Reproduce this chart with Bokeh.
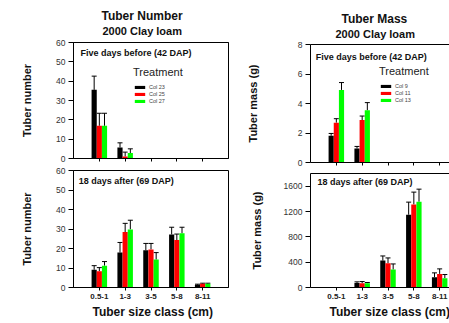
import numpy as np
from bokeh.plotting import figure
from bokeh.models import (Range1d, FixedTicker, Whisker, TeeHead, ColumnDataSource,
                          Legend, LegendItem, Label, LinearAxis, Title)
from bokeh.layouts import row, column
from bokeh.embed import file_html
from bokeh.resources import INLINE

FONT = "Liberation Sans"

# ---------------- data ----------------
size_classes = ["0.5-1", "1-3", "3-5", "5-8", "8-11"]

num_labels = ["Col 23", "Col 25", "Col 27"]
mass_labels = ["Col 9", "Col 11", "Col 13"]

# Tuber number, 42 DAP
num42_a = [35.5, 5.7, 0, 0, 0]
num42_a_err = [7.1, 2.4, 0, 0, 0]
num42_b = [16.9, 1.0, 0, 0, 0]
num42_b_err = [6.5, 2.3, 0, 0, 0]
num42_c = [16.9, 2.8, 0, 0, 0]
num42_c_err = [6.5, 2.2, 0, 0, 0]

# Tuber number, 69 DAP
num69_a = [9.1, 17.9, 19.1, 27.2, 1.4]
num69_a_err = [2.1, 5.2, 3.5, 3.7, 0.3]
num69_b = [8.3, 28.4, 19.5, 24.3, 1.9]
num69_b_err = [1.9, 4.5, 3.1, 3.1, 0.3]
num69_c = [11.2, 29.8, 14.3, 27.8, 1.9]
num69_c_err = [2.1, 4.7, 3.6, 3.1, 0.3]

# Tuber mass, 42 DAP
mass42_a = [1.81, 0.95, 0, 0, 0]
mass42_a_err = [0.16, 0.14, 0, 0, 0]
mass42_b = [2.70, 2.88, 0, 0, 0]
mass42_b_err = [0.27, 0.27, 0, 0, 0]
mass42_c = [4.92, 3.54, 0, 0, 0]
mass42_c_err = [0.50, 0.52, 0, 0, 0]

# Tuber mass, 69 DAP
mass69_a = [3, 73, 425, 1149, 163]
mass69_a_err = [0, 16, 73, 199, 68]
mass69_b = [3, 68, 383, 1312, 215]
mass69_b_err = [0, 26, 84, 194, 79]
mass69_c = [5, 68, 283, 1354, 147]
mass69_c_err = [0, 11, 89, 199, 58]

colors = ["#000000", "#ff0000", "#00ff00"]
offsets = [-0.2, 0.0, 0.2]
PX_PER_CAT = 155 / 6.0


def make_fig(width, height, bl, br, bt, bb, xend, ymax, yticks, ylabel,
             ylabel_standoff, show_xlabels, boxed, top_gap):
    p = figure(width=width, height=height, min_border_left=bl, min_border_right=br,
               min_border_top=bt, min_border_bottom=bb,
               x_range=Range1d(-1, xend), y_range=Range1d(0, ymax),
               output_backend="svg", toolbar_location=None, tools="")
    p.grid.visible = False
    p.background_fill_color = "white"
    p.border_fill_color = "white"
    p.outline_line_color = "black" if boxed else None

    ya = p.left[0]
    ya.ticker = FixedTicker(ticks=yticks)
    ya.axis_label = ylabel
    ya.axis_label_text_font = FONT
    ya.axis_label_text_font_size = "11px"
    ya.axis_label_text_font_style = "bold"
    ya.axis_label_text_color = "#111111"
    ya.axis_label_standoff = ylabel_standoff
    ya.major_label_text_font = FONT
    ya.major_label_text_font_size = "8.5px"
    ya.major_label_text_color = "#333333"
    ya.major_label_standoff = 3
    ya.major_tick_out = 5
    ya.major_tick_in = 0
    ya.minor_tick_out = 0
    ya.minor_tick_in = 0
    ya.axis_line_color = "black"
    ya.major_tick_line_color = "black"

    xa = p.below[0]
    xa.ticker = FixedTicker(ticks=[0, 1, 2, 3, 4])
    xa.major_tick_out = 3
    xa.major_tick_in = 0
    xa.minor_tick_out = 0
    xa.minor_tick_in = 0
    xa.axis_line_color = "black"
    xa.major_tick_line_color = "black"
    if show_xlabels:
        xa.major_label_overrides = {i: s for i, s in enumerate(size_classes)}
        xa.major_label_text_font = FONT
        xa.major_label_text_font_size = "8px"
        xa.major_label_text_font_style = "bold"
        xa.major_label_text_color = "#222222"
        xa.major_label_standoff = 3
    else:
        xa.major_label_text_font_size = "1px"
        xa.major_label_text_color = None
        xa.major_label_standoff = 0

    if top_gap is not None:
        # top border line of the frame; an invisible tick leaves a gap before the titles
        top = LinearAxis(ticker=FixedTicker(ticks=[0]), major_label_text_color=None,
                         major_label_text_font_size="1px",
                         major_tick_out=top_gap, major_tick_in=0, minor_tick_out=0,
                         minor_tick_in=0, major_tick_line_color=None,
                         axis_line_color="black", major_label_standoff=0)
        p.add_layout(top, "above")
    return p


def add_bars(p, series, errors):
    renderers = []
    x0 = np.arange(len(size_classes), dtype=float)
    for k, (vals, errs) in enumerate(zip(series, errors)):
        vals = np.asarray(vals, dtype=float)
        errs = np.asarray(errs, dtype=float)
        xs = x0 + offsets[k]
        src = ColumnDataSource(dict(x=xs, top=vals))
        r = p.vbar(x="x", top="top", width=0.2, source=src,
                   fill_color=colors[k], line_color=None)
        renderers.append(r)
        m = errs > 0
        wsrc = ColumnDataSource(dict(base=xs[m], lower=vals[m], upper=vals[m] + errs[m]))
        w = Whisker(base="base", lower="lower", upper="upper", source=wsrc,
                    lower_head=None,
                    upper_head=TeeHead(size=5, line_color="black", line_width=1),
                    line_color="black", line_width=1)
        p.add_layout(w)
    return renderers


def add_legend(p, renderers, labels, loc):
    items = [LegendItem(label=l, renderers=[r]) for l, r in zip(labels, renderers)]
    lg = Legend(items=items, location=loc, title="Treatment",
                title_text_font=FONT, title_text_font_size="11px",
                title_text_font_style="normal", title_text_color="#222222",
                title_standoff=6,
                label_text_font=FONT, label_text_font_size="5.5px",
                label_text_color="#444444", label_standoff=3,
                glyph_width=13, glyph_height=4, label_height=5, spacing=1,
                padding=0, margin=0, border_line_color=None,
                background_fill_alpha=0)
    p.add_layout(lg)


def text(p, x, y, s, size):
    p.add_layout(Label(x=x, y=y, text=s, text_font=FONT, text_font_size=size,
                       text_font_style="bold", text_align="left",
                       text_baseline="middle", text_color="#111111"))


def titles(p, main, sub, main_off, sub_off):
    p.add_layout(Title(text=sub, align="left", offset=sub_off, standoff=0,
                       text_font=FONT, text_font_size="11px", text_font_style="bold",
                       text_color="#111111"), "above")
    p.add_layout(Title(text=main, align="left", offset=main_off, standoff=0,
                       text_font=FONT, text_font_size="12px", text_font_style="bold",
                       text_color="#111111"), "above")


def xtitle(p, off):
    p.add_layout(Title(text="Tuber size class (cm)", align="left", offset=off, standoff=2,
                       text_font=FONT, text_font_size="12px", text_font_style="bold",
                       text_color="#111111"), "below")


# ---------------- left column ----------------
tl = make_fig(240, 165, 73, 12, 42, 7, 5, 60, [0, 10, 20, 30, 40, 50, 60],
              "Tuber number", 20, False, True, 6)
r_tl = add_bars(tl, [num42_a, num42_b, num42_c], [num42_a_err, num42_b_err, num42_c_err])
add_legend(tl, r_tl, num_labels, (60, 54))
text(tl, -0.73, 54.8, "Five days before (42 DAP)", "9px")
titles(tl, "Tuber Number", "2000 Clay loam", 28, 29)

bl = make_fig(240, 158, 73, 12, 5, 36, 5, 60, [0, 10, 20, 30, 40, 50, 60],
              "Tuber number", 20, True, True, None)
add_bars(bl, [num69_a, num69_b, num69_c], [num69_a_err, num69_b_err, num69_c_err])
text(bl, -0.8, 54.5, "18 days after (69 DAP)", "9px")
xtitle(bl, 19)

# ---------------- right column ----------------
xend_r = -1 + 139 / PX_PER_CAT
tr = make_fig(209, 167, 70, 0, 44, 5, xend_r, 8, [0, 2, 4, 6, 8],
              "Tuber mass (g)", 36, False, False, 5)
r_tr = add_bars(tr, [mass42_a, mass42_b, mass42_c], [mass42_a_err, mass42_b_err, mass42_c_err])
add_legend(tr, r_tr, mass_labels, (69, 59))
text(tr, -0.8, 7.18, "Five days before (42 DAP)", "9px")
titles(tr, "Tuber Mass", "2000 Clay loam", 31, 25)

br = make_fig(209, 156, 70, 0, 6, 36, xend_r, 1800, [0, 400, 800, 1200, 1600],
              "Tuber mass (g)", 18, True, False, 0)
add_bars(br, [mass69_a, mass69_b, mass69_c], [mass69_a_err, mass69_b_err, mass69_c_err])
text(br, -0.73, 1667, "18 days after (69 DAP)", "9px")
xtitle(br, 19)

layout = row(column(tl, bl), column(tr, br))

open("out.html", "w").write(file_html(layout, INLINE))
